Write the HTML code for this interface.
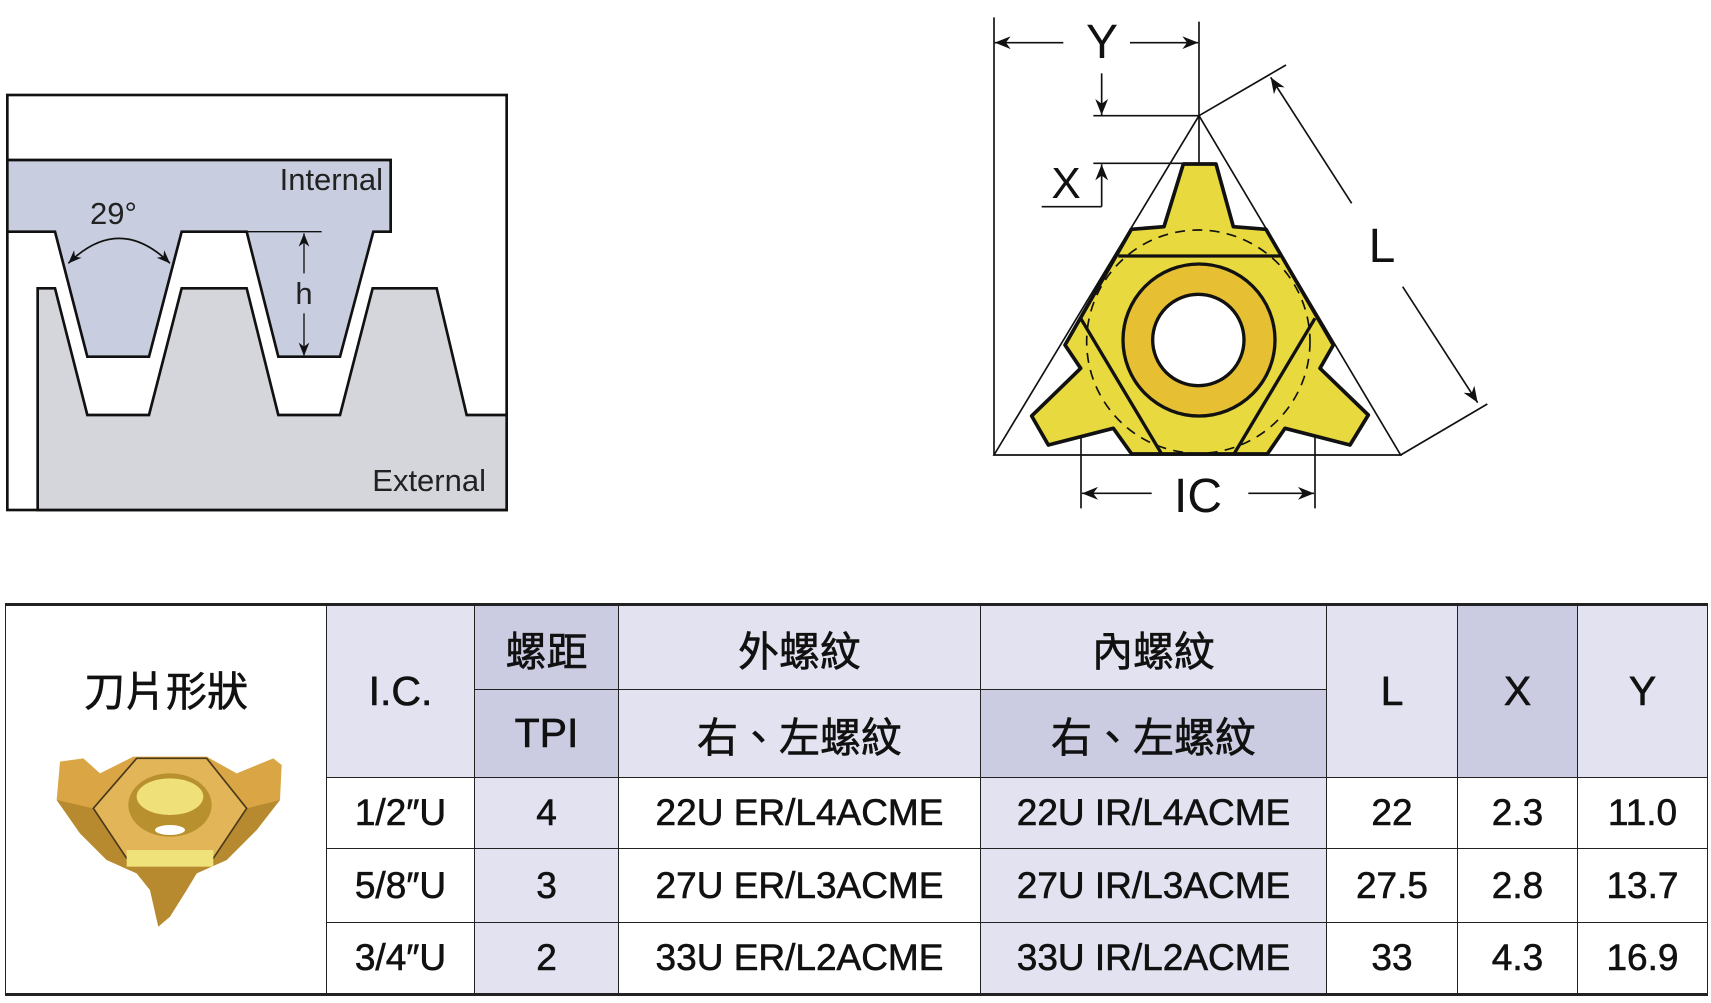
<!DOCTYPE html>
<html><head><meta charset="utf-8"><style>
html,body{margin:0;padding:0;background:#fff;width:1711px;height:1003px;overflow:hidden;position:relative}
.c{position:absolute;box-sizing:border-box;border:1.5px solid #222;display:flex;align-items:center;justify-content:center;font-family:"Liberation Sans","Noto Sans CJK TC",sans-serif;color:#111;font-size:37px;-webkit-text-stroke:0.6px #111}
.h{font-size:41px}
.L{background:#e2e2f0}.D{background:#cbcbe1}.W{background:#fff}
svg{position:absolute;left:0;top:0}
</style></head><body>
<!-- table -->
<div class="c W h" style="left:5px;top:603px;width:322px;height:393px;align-items:flex-start;padding-top:52px;border-top-width:3px;border-bottom-width:3px">刀片形狀</div>
<div class="c L h" style="left:326px;top:603px;width:149px;height:175px;border-top-width:3px">I.C.</div>
<div class="c D h" style="left:474px;top:603px;width:145px;height:87px;border-top-width:3px">螺距</div>
<div class="c D h" style="left:474px;top:689px;width:145px;height:89px">TPI</div>
<div class="c L h" style="left:618px;top:603px;width:363px;height:87px;border-top-width:3px">外螺紋</div>
<div class="c L h" style="left:618px;top:689px;width:363px;height:89px">右、左螺紋</div>
<div class="c L h" style="left:980px;top:603px;width:347px;height:87px;border-top-width:3px">內螺紋</div>
<div class="c D h" style="left:980px;top:689px;width:347px;height:89px">右、左螺紋</div>
<div class="c L h" style="left:1326px;top:603px;width:132px;height:175px;border-top-width:3px">L</div>
<div class="c D h" style="left:1457px;top:603px;width:121px;height:175px;border-top-width:3px">X</div>
<div class="c L h" style="left:1577px;top:603px;width:131px;height:175px;border-top-width:3px">Y</div>

<div class="c W" style="left:326px;top:777px;width:149px;height:72px">1/2″U</div>
<div class="c L" style="left:474px;top:777px;width:145px;height:72px">4</div>
<div class="c W" style="left:618px;top:777px;width:363px;height:72px">22U ER/L4ACME</div>
<div class="c L" style="left:980px;top:777px;width:347px;height:72px">22U IR/L4ACME</div>
<div class="c W" style="left:1326px;top:777px;width:132px;height:72px">22</div>
<div class="c W" style="left:1457px;top:777px;width:121px;height:72px">2.3</div>
<div class="c W" style="left:1577px;top:777px;width:131px;height:72px">11.0</div>

<div class="c W" style="left:326px;top:848px;width:149px;height:75px">5/8″U</div>
<div class="c L" style="left:474px;top:848px;width:145px;height:75px">3</div>
<div class="c W" style="left:618px;top:848px;width:363px;height:75px">27U ER/L3ACME</div>
<div class="c L" style="left:980px;top:848px;width:347px;height:75px">27U IR/L3ACME</div>
<div class="c W" style="left:1326px;top:848px;width:132px;height:75px">27.5</div>
<div class="c W" style="left:1457px;top:848px;width:121px;height:75px">2.8</div>
<div class="c W" style="left:1577px;top:848px;width:131px;height:75px">13.7</div>

<div class="c W" style="left:326px;top:922px;width:149px;height:74px;border-bottom-width:3px">3/4″U</div>
<div class="c L" style="left:474px;top:922px;width:145px;height:74px;border-bottom-width:3px">2</div>
<div class="c W" style="left:618px;top:922px;width:363px;height:74px;border-bottom-width:3px">33U ER/L2ACME</div>
<div class="c L" style="left:980px;top:922px;width:347px;height:74px;border-bottom-width:3px">33U IR/L2ACME</div>
<div class="c W" style="left:1326px;top:922px;width:132px;height:74px;border-bottom-width:3px">33</div>
<div class="c W" style="left:1457px;top:922px;width:121px;height:74px;border-bottom-width:3px">4.3</div>
<div class="c W" style="left:1577px;top:922px;width:131px;height:74px;border-bottom-width:3px">16.9</div>

<svg width="1711" height="1003" viewBox="0 0 1711 1003">
<defs>
<marker id="b" viewBox="0 0 10 10" refX="10" refY="5" markerWidth="48" markerHeight="48" orient="auto-start-reverse" markerUnits="userSpaceOnUse"><path d="M0,1 L10,5 L0,9 L3,5z" fill="#111"/></marker>
<marker id="c" viewBox="0 0 10 10" refX="10" refY="5" markerWidth="40" markerHeight="40" orient="auto-start-reverse" markerUnits="userSpaceOnUse"><path d="M0,1 L10,5 L0,9 L3,5z" fill="#111"/></marker>
<clipPath id="ins"><polygon points="610,492 708,492 760,680 858,688 1060,1035 1020,1105 1165,1245 1110,1335 915,1285 862,1362 455,1362 400,1285 205,1335 155,1248 302,1105 255,1035 454,688 552,680"/></clipPath>
</defs>
<!-- left thread diagram -->
<g transform="translate(0,80) scale(0.33333)" stroke="#111" stroke-width="8">
<rect x="22" y="45" width="1498" height="1245" fill="#fff"/>
<polygon fill="#c9cde0" points="22,240 1172,240 1172,455 1120,455 1020,830 835,830 740,455 545,455 447,830 262,830 165,455 22,455"/>
<polygon fill="#d5d6db" points="113,1290 113,625 165,625 262,1005 447,1005 545,625 740,625 835,1005 1020,1005 1118,625 1310,625 1400,1005 1520,1005 1520,1290"/>
<line x1="740" y1="455" x2="965" y2="455" stroke-width="4"/>
<line x1="912" y1="460" x2="912" y2="580" stroke-width="4" marker-start="url(#c)"/>
<line x1="912" y1="700" x2="912" y2="828" stroke-width="4" marker-end="url(#c)"/>
<path d="M205,550 Q357,400 510,550" fill="none" stroke-width="5" marker-start="url(#c)" marker-end="url(#c)"/>
</g>
<g font-family="Liberation Sans,sans-serif" fill="#222" font-size="31">
<text x="383" y="190" text-anchor="end">Internal</text>
<text x="90" y="224">29°</text>
<text x="304" y="304" text-anchor="middle">h</text>
<text x="486" y="491" text-anchor="end">External</text>
</g>
<!-- right insert diagram -->
<g transform="translate(980,0) scale(0.33333)" stroke="#111">
<g stroke-width="5" fill="none">
<line x1="42" y1="52" x2="42" y2="1365"/>
<line x1="657" y1="65" x2="657" y2="490"/>
<line x1="250" y1="128" x2="44" y2="128" marker-end="url(#b)"/>
<line x1="450" y1="128" x2="655" y2="128" marker-end="url(#b)"/>
<line x1="340" y1="347" x2="657" y2="347"/>
<line x1="365" y1="220" x2="365" y2="345" marker-end="url(#b)"/>
<line x1="340" y1="490" x2="657" y2="490"/>
<line x1="185" y1="620" x2="365" y2="620"/>
<line x1="365" y1="620" x2="365" y2="493" marker-end="url(#b)"/>
<polygon points="657,347 1262,1365 42,1365"/>
<line x1="657" y1="347" x2="918" y2="195"/>
<line x1="1262" y1="1365" x2="1522" y2="1212"/>
<line x1="1115" y1="610" x2="872" y2="232" marker-end="url(#b)"/>
<line x1="1268" y1="860" x2="1493" y2="1208" marker-end="url(#b)"/>
<line x1="303" y1="960" x2="303" y2="1525"/>
<line x1="1005" y1="960" x2="1005" y2="1525"/>
<line x1="515" y1="1480" x2="306" y2="1480" marker-end="url(#b)"/>
<line x1="805" y1="1480" x2="1002" y2="1480" marker-end="url(#b)"/>
</g>
<polygon fill="#e8d93e" stroke-width="11" stroke-linejoin="round" points="610,492 708,492 760,680 858,688 1060,1035 1020,1105 1165,1245 1110,1335 915,1285 862,1362 455,1362 400,1285 205,1335 155,1248 302,1105 255,1035 454,688 552,680"/>
<circle cx="655" cy="1025" r="335" fill="none" stroke-width="5" stroke-dasharray="30,22" clip-path="url(#ins)"/>
<line x1="415" y1="768" x2="900" y2="768" stroke-width="10"/>
<line x1="302" y1="955" x2="545" y2="1362" stroke-width="10"/>
<line x1="1005" y1="955" x2="762" y2="1362" stroke-width="10"/>
<circle cx="657" cy="1020" r="228" fill="#e6c032" stroke-width="10"/>
<circle cx="655" cy="1020" r="137" fill="#fff" stroke-width="10"/>
</g>
<g font-family="Liberation Sans,sans-serif" fill="#111" font-size="48">
<text x="1102" y="58" text-anchor="middle">Y</text>
<text x="1066" y="198" text-anchor="middle" font-size="44">X</text>
<text x="1382" y="262" text-anchor="middle">L</text>
<text x="1198" y="512" text-anchor="middle">IC</text>
</g>
<!-- product image -->
<g transform="translate(40,730) scale(0.33333)">
<polygon fill="#d9a545" points="60,95 130,85 180,130 280,80 500,80 590,130 700,85 725,105 720,210 650,300 560,390 470,430 440,480 390,560 355,590 330,480 290,430 200,390 120,310 50,210"/>
<polygon fill="#b88a30" points="50,210 120,310 200,390 290,430 330,480 355,590 390,560 440,480 470,430 560,390 650,300 720,210 620,235 520,385 260,385 160,235"/>
<polygon fill="#e2b558" stroke="#4a3a1a" stroke-width="5" points="160,235 290,85 500,85 620,235 520,385 260,385"/>
<ellipse cx="390" cy="225" rx="125" ry="95" fill="#b8902e"/>
<ellipse cx="390" cy="200" rx="100" ry="55" fill="#f0e07a"/>
<ellipse cx="390" cy="300" rx="45" ry="15" fill="#fff"/>
<rect x="260" y="360" width="260" height="50" fill="#efe27a"/>
</g>
</svg>
</body></html>
